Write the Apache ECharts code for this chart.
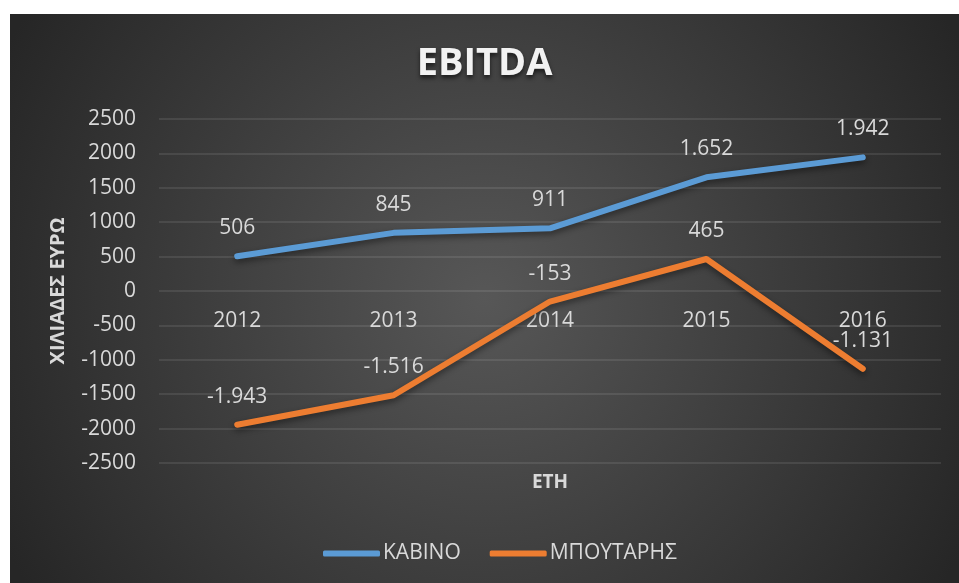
<!DOCTYPE html>
<html>
<head>
<meta charset="utf-8">
<title>EBITDA</title>
<script src="https://cdn.jsdelivr.net/npm/echarts@6/dist/echarts.min.js"></script>
<style>
  html, body { margin: 0; padding: 0; background: #ffffff; }
  #chart { position: absolute; left: 10px; top: 14px; width: 949px; height: 569px; }
</style>
</head>
<body>
<div id="chart"></div>
<script>
// Chart data
const years = ['2012', '2013', '2014', '2015', '2016'];
const kabino = [506, 845, 911, 1652, 1942];
const boutaris = [-1943, -1516, -153, 465, -1131];
const seriesNames = ['ΚΑΒΙΝΟ', 'ΜΠΟΥΤΑΡΗΣ'];
const seriesColors = ['#5B9BD5', '#ED7D31'];

const textColor = '#d9d9d9';
const gridColor = 'rgba(255,255,255,0.12)';
const font = 'Open Sans';

// greek style thousands separator -> 1.652
const fmt = (v) => {
    const s = Math.abs(v).toString().replace(/\B(?=(\d{3})+(?!\d))/g, '.');
    return (v < 0 ? '-' : '') + s;
};

const chart = echarts.init(document.getElementById('chart'));

const makeSeries = (name, data, color) => ({
    name: name,
    type: 'line',
    data: data,
    symbol: 'circle',
    symbolSize: 1,
    itemStyle: { color: color },
    lineStyle: {
        width: 6, color: color, cap: 'round', join: 'round',
        shadowColor: 'rgba(0,0,0,0.45)', shadowBlur: 6, shadowOffsetY: 3
    },
    label: {
        show: true, position: 'top', distance: 17,
        color: textColor, fontFamily: font, fontSize: 21,
        formatter: (p) => fmt(p.value)
    },
    emphasis: { disabled: true }
});

// grid is 344px high, the year labels sit on the zero line (middle of it)
const gridHeight = 344;

chart.setOption({
    backgroundColor: {
        type: 'radial', x: 0.5, y: 0.5, r: 0.95,
        colorStops: [
            { offset: 0, color: '#575757' },
            { offset: 1, color: '#262626' }
        ]
    },
    title: {
        text: 'EBITDA',
        left: 'center',
        top: 26,
        textStyle: {
            color: '#f2f2f2', fontFamily: font, fontWeight: 'bold', fontSize: 38,
            textShadowColor: 'rgba(0,0,0,0.6)', textShadowBlur: 4, textShadowOffsetY: 3
        }
    },
    legend: {
        data: seriesNames,
        left: 308,
        top: 524,
        icon: 'roundRect',
        itemWidth: 57,
        itemHeight: 6,
        itemGap: 29,
        textStyle: { color: textColor, fontFamily: font, fontSize: 21, padding: [0, 0, 0, -2] }
    },
    grid: { left: 149, right: 18, top: 105, bottom: 120, outerBoundsMode: 'none' },
    xAxis: {
        type: 'category',
        data: years,
        offset: -gridHeight / 2,
        name: 'ΕΤΗ',
        nameLocation: 'middle',
        nameGap: 182,
        nameTextStyle: { color: textColor, fontFamily: font, fontWeight: 'bold', fontSize: 19 },
        axisLine: { show: false, onZero: false },
        axisTick: { show: false },
        axisLabel: { color: textColor, fontFamily: font, fontSize: 21, margin: 20 }
    },
    yAxis: {
        type: 'value',
        min: -2500,
        max: 2500,
        interval: 500,
        name: 'ΧΙΛΙΑΔΕΣ ΕΥΡΩ',
        nameLocation: 'middle',
        nameRotate: 90,
        nameGap: 91,
        nameTextStyle: { color: textColor, fontFamily: font, fontWeight: 'bold', fontSize: 20 },
        axisLabel: { color: textColor, fontFamily: font, fontSize: 21, margin: 23, formatter: (v) => String(v) },
        splitLine: { lineStyle: { color: gridColor, width: 1.5 } }
    },
    series: [
        makeSeries(seriesNames[0], kabino, seriesColors[0]),
        makeSeries(seriesNames[1], boutaris, seriesColors[1])
    ]
});
</script>
</body>
</html>
